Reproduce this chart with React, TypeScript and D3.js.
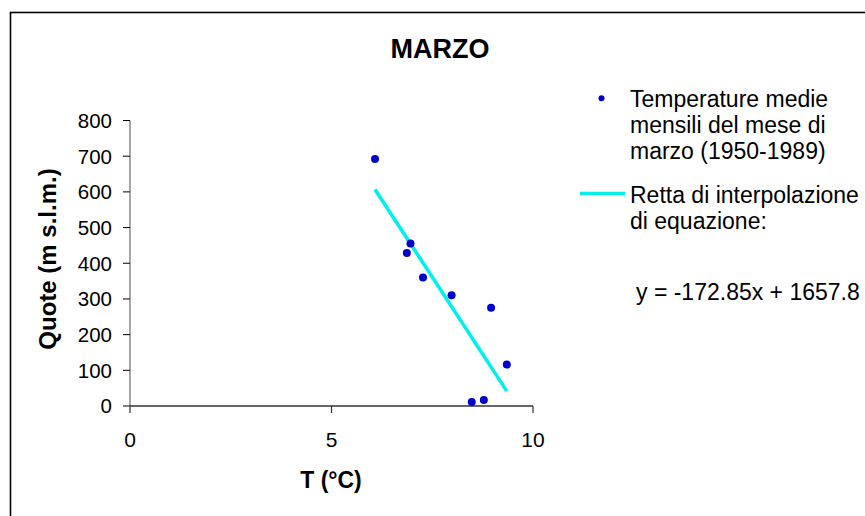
import React from "react";
import * as d3 from "d3";

const temps = [6.08, 6.96, 6.87, 7.27, 7.98, 8.96, 9.35, 8.48, 8.78];
const quote = [692, 455, 429, 360, 310, 275, 116, 11, 17];
const slope = -172.85;
const intercept = 1657.8;
const xTicks = [0, 5, 10];
const yTicks = [0, 100, 200, 300, 400, 500, 600, 700, 800];
const legendPoints = ["Temperature medie", "mensili del mese di", "marzo (1950-1989)"];
const legendLine = ["Retta di interpolazione", "di equazione:"];
const equation = "y = -172.85x + 1657.8";

export default function App() {
  const W = 865, H = 516;
  const x = d3.scaleLinear().domain([0, 10]).range([130, 533]);
  const y = d3.scaleLinear().domain([0, 800]).range([406, 120.5]);
  const font = "'Liberation Sans', Arial, sans-serif";
  const xmin = d3.min(temps) as number;
  const xmax = d3.max(temps) as number;
  const line = d3.line<number>().x((t) => x(t)).y((t) => y(slope * t + intercept));
  return (
    <svg width={W} height={H} style={{ position: "absolute", left: 0, top: 0, background: "#fff" }} fontFamily={font}>
      <rect x={10.5} y={12.5} width={900} height={600} fill="none" stroke="#000" strokeWidth={1.6} />
      <text x={440} y={58} textAnchor="middle" fontWeight="bold" fontSize={27}>MARZO</text>
      {/* y axis */}
      <line x1={x(0)} x2={x(0)} y1={y(800)} y2={y(0)} stroke="#777" strokeWidth={1.3} />
      {yTicks.map((t) => (
        <g key={"y" + t}>
          <line x1={x(0) - 7} x2={x(0)} y1={y(t)} y2={y(t)} stroke="#000" strokeWidth={1} />
          <text x={112} y={y(t)} dy="0.36em" textAnchor="end" fontSize={20.5}>{t}</text>
        </g>
      ))}
      {/* x axis */}
      <line x1={x(0)} x2={x(10)} y1={y(0)} y2={y(0)} stroke="#333" strokeWidth={1.3} />
      {xTicks.map((t) => (
        <g key={"x" + t}>
          <line x1={x(t)} x2={x(t)} y1={y(0)} y2={y(0) + 7} stroke="#333" strokeWidth={1.2} />
          <text x={x(t)} y={446.5} textAnchor="middle" fontSize={21}>{t}</text>
        </g>
      ))}
      <text x={331} y={488} textAnchor="middle" fontWeight="bold" fontSize={23}>T (°C)</text>
      <text transform="translate(56,259) rotate(-90)" textAnchor="middle" fontWeight="bold" fontSize={24}>Quote (m s.l.m.)</text>
      <path d={line([xmin, xmax]) || ""} stroke="#00F0F0" strokeWidth={3.6} fill="none" />
      {temps.map((t, i) => (
        <circle key={i} cx={x(t)} cy={y(quote[i])} r={4} fill="#0000CC" />
      ))}
      {/* legend */}
      <circle cx={601.5} cy={98.3} r={3} fill="#0000CC" />
      {legendPoints.map((s, i) => (
        <text key={s} x={630} y={106.5 + i * 26.3} fontSize={23}>{s}</text>
      ))}
      <line x1={580} x2={625} y1={193.3} y2={193.3} stroke="#00F0F0" strokeWidth={3.2} />
      {legendLine.map((s, i) => (
        <text key={s} x={630} y={202.5 + i * 26.3} fontSize={23}>{s}</text>
      ))}
      <text x={636} y={300} fontSize={23}>{equation}</text>
    </svg>
  );
}
